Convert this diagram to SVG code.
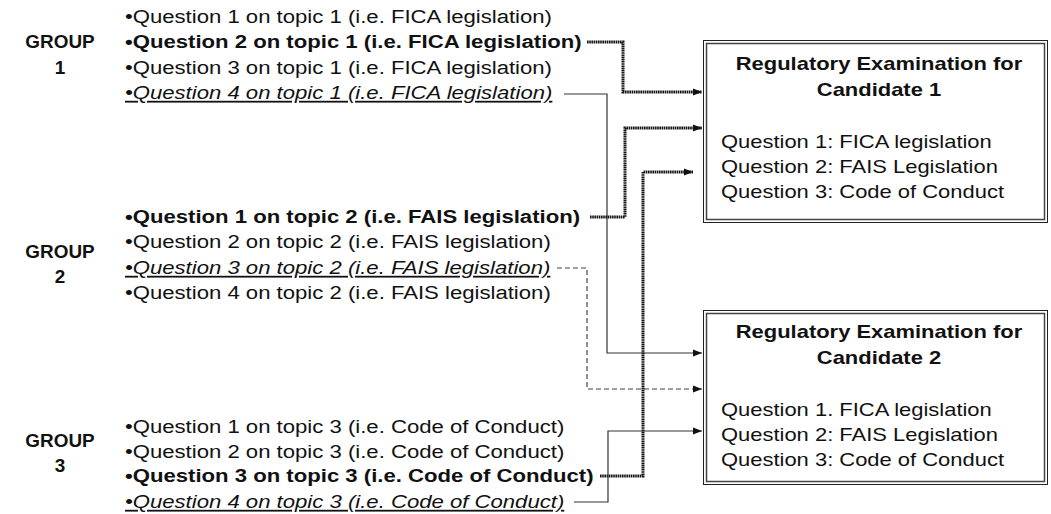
<svg xmlns="http://www.w3.org/2000/svg" width="1051" height="514" viewBox="0 0 1051 514">
<style>
text{font-family:"Liberation Sans",Arial,sans-serif;font-size:18px;fill:#111}
.b{font-weight:bold}
.i{font-style:italic;text-decoration:underline}
.g{font-weight:bold;font-size:18px;text-anchor:middle}
.t{font-weight:bold;text-anchor:middle}
.thick{fill:none;stroke:#151515;stroke-width:3;stroke-dasharray:1.6 0.6}
.thin{fill:none;stroke:#333;stroke-width:1.2}
.dash{fill:none;stroke:#444;stroke-width:1.2;stroke-dasharray:5 3}
.box{fill:#fff;stroke:#222;stroke-width:1}
.inner{fill:none;stroke:#444;stroke-width:1.5}
</style>
<defs>
<marker id="ah" markerUnits="userSpaceOnUse" markerWidth="10" markerHeight="10" refX="9" refY="5" orient="auto">
<path d="M0,1.5 L9,5 L0,8.5 z" fill="#111"/>
</marker>
</defs>

<g id="group1">
<text class="g" transform="translate(60,48) scale(1.05,1)">GROUP</text>
<text class="g" transform="translate(60,74) scale(1.05,1)">1</text>
<text transform="translate(125,23) scale(1.23,1)">•Question 1 on topic 1 (i.e. FICA legislation)</text>
<text class="b" transform="translate(125,48) scale(1.23,1)">•Question 2 on topic 1 (i.e. FICA legislation)</text>
<text transform="translate(125,74) scale(1.23,1)">•Question 3 on topic 1 (i.e. FICA legislation)</text>
<text class="i" transform="translate(125,99) scale(1.23,1)">•Question 4 on topic 1 (i.e. FICA legislation)</text>
</g>

<g id="group2">
<text class="g" transform="translate(60,258) scale(1.05,1)">GROUP</text>
<text class="g" transform="translate(60,283) scale(1.05,1)">2</text>
<text class="b" transform="translate(125,223) scale(1.23,1)">•Question 1 on topic 2 (i.e. FAIS legislation)</text>
<text transform="translate(125,248) scale(1.23,1)">•Question 2 on topic 2 (i.e. FAIS legislation)</text>
<text class="i" transform="translate(125,274) scale(1.23,1)">•Question 3 on topic 2 (i.e. FAIS legislation)</text>
<text transform="translate(125,299) scale(1.23,1)">•Question 4 on topic 2 (i.e. FAIS legislation)</text>
</g>

<g id="group3">
<text class="g" transform="translate(60,447) scale(1.05,1)">GROUP</text>
<text class="g" transform="translate(60,472) scale(1.05,1)">3</text>
<text transform="translate(125,433) scale(1.23,1)">•Question 1 on topic 3 (i.e. Code of Conduct)</text>
<text transform="translate(125,458) scale(1.23,1)">•Question 2 on topic 3 (i.e. Code of Conduct)</text>
<text class="b" transform="translate(125,482) scale(1.23,1)">•Question 3 on topic 3 (i.e. Code of Conduct)</text>
<text class="i" transform="translate(125,508) scale(1.23,1)">•Question 4 on topic 3 (i.e. Code of Conduct)</text>
</g>

<g id="exam1">
<rect class="box" x="703.5" y="40.5" width="344" height="182"/>
<rect class="inner" x="706.5" y="43.5" width="338" height="176"/>
<text class="t" transform="translate(879,70) scale(1.22,1)">Regulatory Examination for</text>
<text class="t" transform="translate(879,96) scale(1.22,1)">Candidate 1</text>
<text transform="translate(721,148) scale(1.22,1)">Question 1: FICA legislation</text>
<text transform="translate(721,173) scale(1.22,1)">Question 2: FAIS Legislation</text>
<text transform="translate(721,198) scale(1.22,1)">Question 3: Code of Conduct</text>
</g>

<g id="exam2">
<rect class="box" x="703.5" y="310.5" width="344" height="174"/>
<rect class="inner" x="706.5" y="313.5" width="338" height="168"/>
<text class="t" transform="translate(879,338) scale(1.22,1)">Regulatory Examination for</text>
<text class="t" transform="translate(879,364) scale(1.22,1)">Candidate 2</text>
<text transform="translate(721,416) scale(1.22,1)">Question 1. FICA legislation</text>
<text transform="translate(721,441) scale(1.22,1)">Question 2: FAIS Legislation</text>
<text transform="translate(721,466) scale(1.22,1)">Question 3: Code of Conduct</text>
</g>

<g id="connectors">
<path class="thick" d="M587,42 H623 V92 H702" marker-end="url(#ah)"/>
<path class="thin" d="M564,94 H607 V353 H702" marker-end="url(#ah)"/>
<path class="thick" d="M590,217 H625 V128 H702" marker-end="url(#ah)"/>
<path class="dash" d="M557,268 H587 V389 H702" marker-end="url(#ah)"/>
<path class="thick" d="M600,476 H643 V172 H693" marker-end="url(#ah)"/>
<path class="thin" d="M574,502 H608 V431 H702" marker-end="url(#ah)"/>
</g>
</svg>
